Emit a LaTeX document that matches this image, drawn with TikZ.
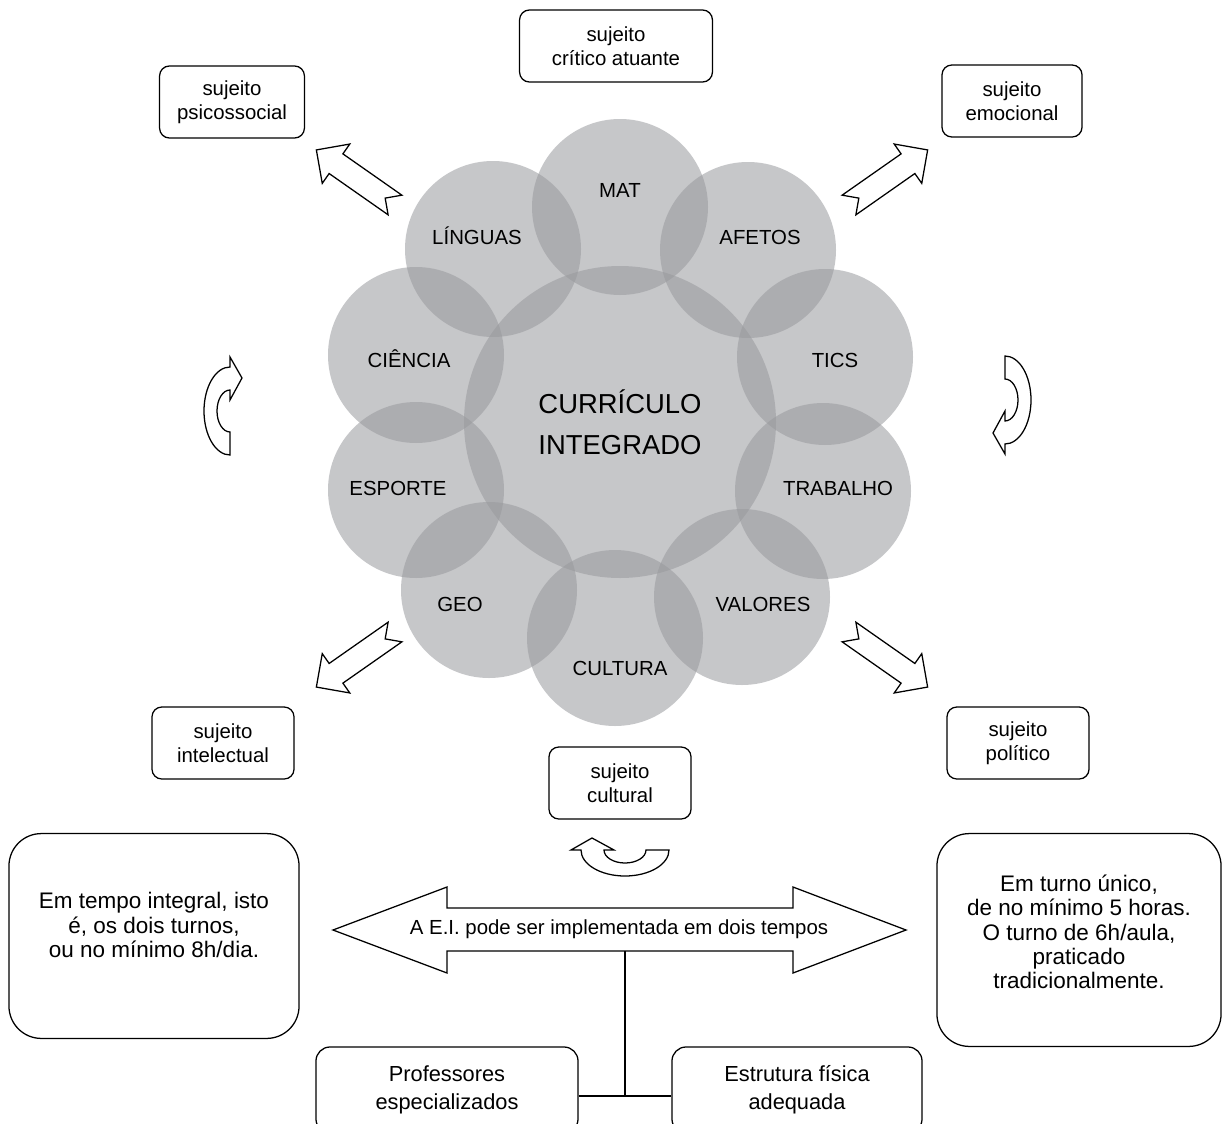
\documentclass[tikz,border=0pt]{standalone}
\usepackage{fontspec}
\setmainfont{Liberation Sans}

\definecolor{petalgray}{RGB}{152,153,157}

\tikzset{
  petal/.style={fill=petalgray, fill opacity=0.55},
  petallabel/.style={font=\fontsize{14.5}{17}\selectfont, text height=10.4pt, text depth=0pt, inner sep=0pt},
  centerlabel/.style={font=\fontsize{19.5}{29}\selectfont, align=center, inner sep=0pt},
  subjbox/.style={draw, rounded corners=7pt, line width=0.9pt, minimum width=3.55cm, minimum height=1.8cm,
    align=center, font=\fontsize{14.5}{16.8}\selectfont},
  bigbox/.style={draw, rounded corners=23pt, line width=0.9pt},
  bigtext/.style={align=center, font=\fontsize{16}{17.2}\selectfont},
  basebox/.style={draw, rounded corners=10pt, line width=0.9pt, minimum height=2.15cm, align=center,
    font=\fontsize{15.5}{20}\selectfont},
  arrowline/.style={draw, fill=white, line width=0.9pt, line join=miter},
  pics/blockarrow/.style={code={
    \draw[arrowline] (0,-12) -- (72,-12) -- (72,-24) -- (96,0) -- (72,24) -- (72,12) -- (0,12) -- (12,0) -- cycle;}},
  pics/turnarrow/.style={code={
    \draw[arrowline] (0,44) arc (90:270:26 and 44) -- (0,-54) -- (12,-33) -- (0,-11) -- (0,-21)
      arc (270:90:13 and 21) -- cycle;}}
}

\begin{document}
\begin{tikzpicture}[x=0.025cm, y=-0.025cm]
  \clip (0,0) rectangle (1224,1124);
  \fill[white] (0,0) rectangle (1224,1124);

  % Draw the circles
  \fill[petal] (620,422) circle (156);
  \fill[petal] (620,207) circle (88);
  \fill[petal] (493,249) circle (88);
  \fill[petal] (748,250) circle (88);
  \fill[petal] (416,355) circle (88);
  \fill[petal] (825,357) circle (88);
  \fill[petal] (416,490) circle (88);
  \fill[petal] (823,491) circle (88);
  \fill[petal] (489,590) circle (88);
  \fill[petal] (742,597) circle (88);
  \fill[petal] (615,638) circle (88);

  % Circle labels
  \node[centerlabel] (curr) at (620,422) {CURRÍCULO\\INTEGRADO};
  \node[petallabel] (mat) at (620,190) {MAT};
  \node[petallabel] (ling) at (477,237) {LÍNGUAS};
  \node[petallabel] (afet) at (760,237) {AFETOS};
  \node[petallabel] (cien) at (409,360) {CIÊNCIA};
  \node[petallabel] (tics) at (835,360) {TICS};
  \node[petallabel] (espo) at (398,488) {ESPORTE};
  \node[petallabel] (trab) at (838,488) {TRABALHO};
  \node[petallabel] (geo) at (460,604) {GEO};
  \node[petallabel] (valo) at (763,604) {VALORES};
  \node[petallabel] (cult) at (620,668) {CULTURA};

  % Draw the subject boxes
  \node[subjbox, minimum width=4.82cm] (critico) at (616,46) {sujeito\\crítico atuante};
  \node[subjbox, minimum width=3.62cm] (psico) at (232,102) {sujeito\\psicossocial};
  \node[subjbox, minimum width=3.5cm] (emoc) at (1012,101) {sujeito\\emocional};
  \node[subjbox] (intel) at (223,743) {sujeito\\intelectual};
  \node[subjbox] (cultural) at (620,783) {sujeito\\cultural};
  \node[subjbox] (polit) at (1018,743) {sujeito\\político};

  % Draw the arrows
  \pic[rotate=145] at (395,205) {blockarrow};
  \pic[rotate=35] at (849,205) {blockarrow};
  \pic[rotate=215] at (395,632) {blockarrow};
  \pic[rotate=325] at (849,632) {blockarrow};
  \pic at (230,411) {turnarrow};
  \pic[rotate=180] at (1005,400) {turnarrow};
  \pic[rotate=90] at (625,850) {turnarrow};

  % Draw the double arrow
  \draw[arrowline] (333,930) -- (447,887) -- (447,908) -- (793,908) -- (793,887) -- (906,930)
    -- (793,973) -- (793,951) -- (447,951) -- (447,973) -- cycle;
  \node[font=\fontsize{14.5}{17}\selectfont] (ei) at (619,929) {A E.I. pode ser implementada em dois tempos};

  % Draw the side boxes
  \node[bigbox, minimum width=7.25cm, minimum height=5.12cm] (integral) at (154,936) {};
  \node[bigtext] (integraltxt) at (154,925) {Em tempo integral, isto\\é, os dois turnos,\\ou no mínimo 8h/dia.};
  \node[bigbox, minimum width=7.1cm, minimum height=5.32cm] (unico) at (1079,940) {};
  \node[bigtext] (unicotxt) at (1079,932)
    {Em turno único,\\de no mínimo 5 horas.\\O turno de 6h/aula,\\praticado\\tradicionalmente.};

  % Draw the base boxes
  \node[basebox, minimum width=6.55cm] (prof) at (447,1090) {Professores\\especializados};
  \node[basebox, minimum width=6.25cm] (estr) at (797,1090) {Estrutura física\\adequada};

  % Draw the connectors
  \coordinate (split) at (625,951);
  \coordinate (joint) at (625,1096);
  \draw[line width=0.8pt] (split) -- (joint);
  \draw[line width=0.8pt] (prof.east |- joint) -- (estr.west |- joint);
\end{tikzpicture}
\end{document}
